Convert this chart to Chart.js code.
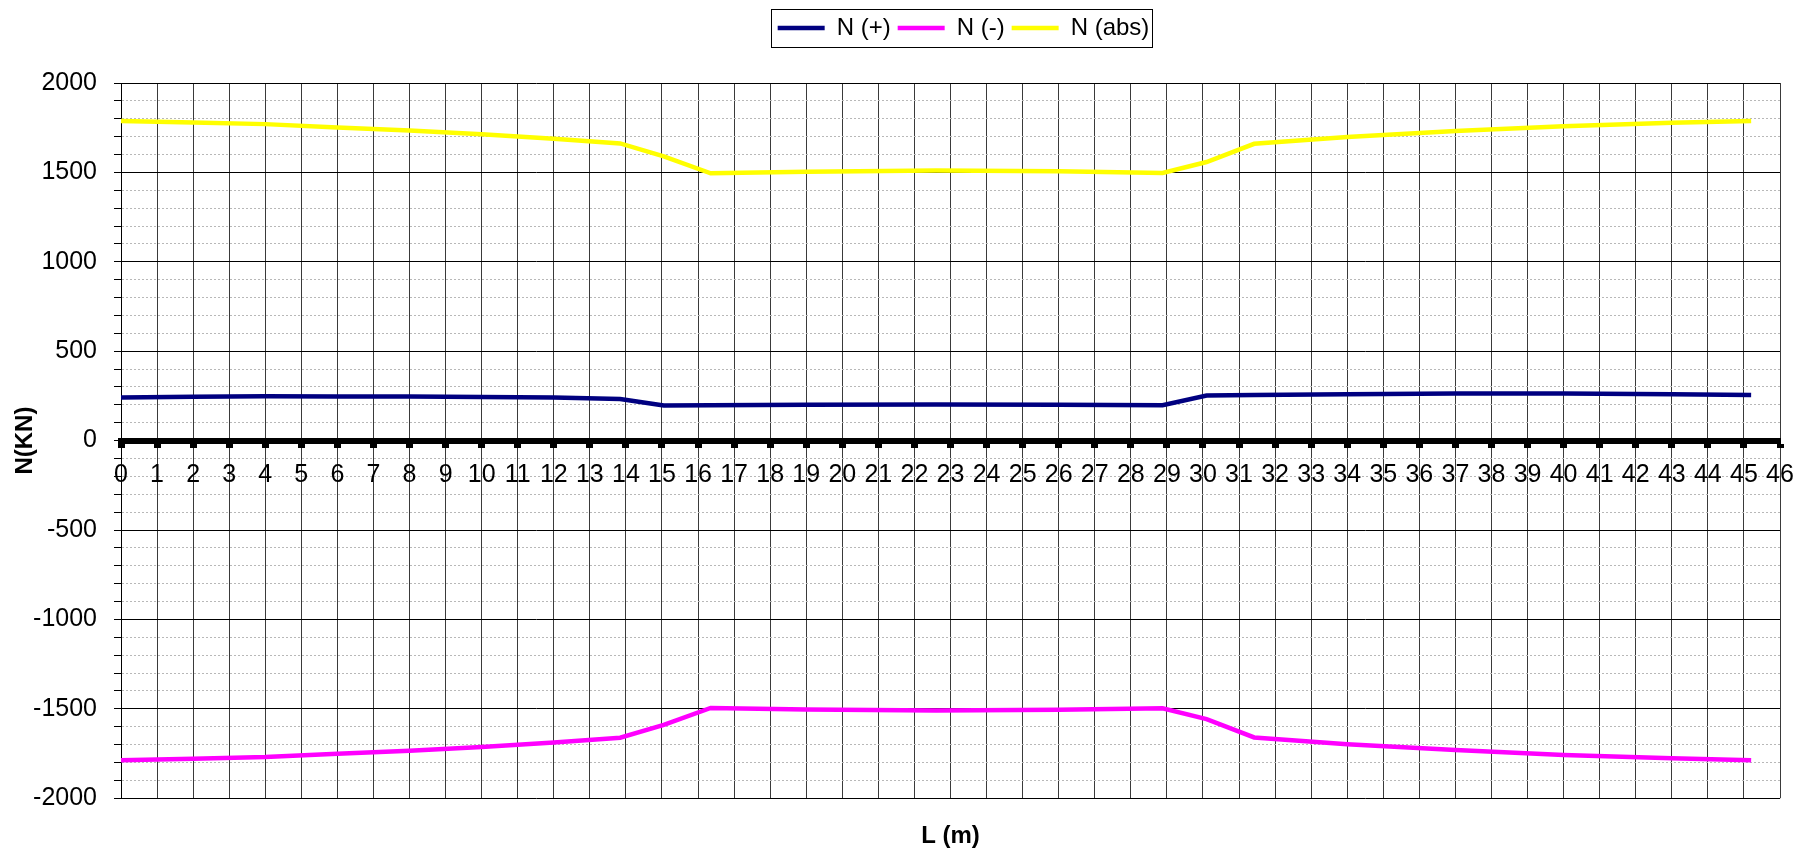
<!DOCTYPE html>
<html>
<head>
<meta charset="utf-8">
<script src="https://cdn.jsdelivr.net/npm/chart.js@4.4.1/dist/chart.umd.min.js"></script>
<style>
  html, body { margin: 0; padding: 0; background: #fff; }
  #wrap { width: 1798px; height: 852px; }
</style>
</head>
<body>
<div id="wrap"><canvas id="c" width="1798" height="852"></canvas></div>
<script>
// L (m) positions along the member, and axial force N (kN) per series
const L_M   = [0, 2, 4, 6, 8, 10, 12, 13.84, 15.05, 16.35, 19, 22.6, 26, 28.88, 30.1, 31.42, 34, 37, 40, 43, 45.2];
const N_POS = [241, 245, 248, 247, 246, 244, 241, 233, 196, 198, 200, 202, 201, 198, 252, 255, 259, 263, 263, 259, 255];
const N_NEG = [-1788, -1779, -1770, -1751, -1734, -1714, -1688, -1662, -1590, -1495, -1504, -1510, -1506, -1497, -1558, -1660, -1698, -1731, -1758, -1777, -1788];
const N_ABS = [1788, 1779, 1770, 1751, 1734, 1714, 1688, 1662, 1590, 1495, 1504, 1510, 1506, 1497, 1558, 1660, 1698, 1731, 1758, 1777, 1788];
const SERIES = ['N (+)', 'N (-)', 'N (abs)'];
const X_MIN = 0, X_MAX = 46, X_STEP = 1;
const Y_MIN = -2000, Y_MAX = 2000, Y_STEP = 100, Y_MAJOR = 500;

const LEGEND_GAP = 33, LEGEND_SHIFT = 13, Y_AXIS_W = 121;

Chart.defaults.font.family = "'Liberation Sans', Arial, sans-serif";
Chart.defaults.font.size = 24;
Chart.defaults.color = '#000';

const pts = ys => L_M.map((x, i) => ({ x, y: ys[i] }));
const isMajor = v => v % Y_MAJOR === 0;

// extra space under the legend + nudge it right
const legendGap = {
  id: 'legendGap',
  afterInit(chart) {
    const lg = chart.legend;
    const fit = lg.fit;
    lg.fit = function () { fit.call(this); this.height += LEGEND_GAP; };
  },
  afterLayout(chart) {
    chart.legend.left += LEGEND_SHIFT;
    chart.legend.right += LEGEND_SHIFT;
  }
};

// frame round the legend, like the spreadsheet one
const legendFrame = {
  id: 'legendFrame',
  afterDraw(chart) {
    const hb = chart.legend.legendHitBoxes;
    if (!hb || !hb.length) return;
    const l = Math.min(...hb.map(b => b.left)) - 7;
    const r = Math.max(...hb.map(b => b.left + b.width)) + 2;
    const cy = hb[0].top + hb[0].height / 2;
    const ctx = chart.ctx;
    ctx.save();
    ctx.strokeStyle = '#000';
    ctx.lineWidth = 1;
    ctx.strokeRect(Math.round(l) + 0.5, Math.round(cy - 19) + 0.5, Math.round(r - l), 38);
    ctx.restore();
  }
};

const ds = (label, data, color) => ({
  label, data: pts(data), borderColor: color, backgroundColor: color,
  borderWidth: 4.5, pointRadius: 0, tension: 0
});

new Chart(document.getElementById('c'), {
  type: 'line',
  data: { datasets: [
    ds(SERIES[0], N_POS, '#000080'),
    ds(SERIES[1], N_NEG, '#FF00FF'),
    ds(SERIES[2], N_ABS, '#FFFF00'),
  ]},
  options: {
    responsive: false, animation: false,
    layout: { padding: { top: 9, left: 0, right: 18, bottom: 1 } },
    plugins: {
      legend: { position: 'top', fullSize: false,
        labels: { usePointStyle: true, pointStyle: 'line', pointStyleWidth: 47, padding: 7, color: '#000', font: { size: 24 } } },
      tooltip: { enabled: false }
    },
    scales: {
      x: { type: 'linear', position: { y: 0 }, min: X_MIN, max: X_MAX,
        afterFit: s => { s.paddingLeft = 0; s.paddingRight = 0; },
        ticks: { stepSize: X_STEP, autoSkip: false, maxRotation: 0, padding: 16, color: '#000', font: { size: 25 } },
        grid: { color: '#3a3a3a', lineWidth: 1, tickLength: 4, tickWidth: 7, tickColor: '#000' },
        border: { display: true, color: '#000', width: 6 } },
      x2: { type: 'linear', axis: 'x', position: 'bottom',
        ticks: { display: false }, grid: { display: false, drawTicks: false }, border: { display: false },
        title: { display: true, text: 'L (m)', color: '#000', font: { size: 24, weight: 'bold' }, padding: { top: 24, bottom: 0 } } },
      y: { type: 'linear', min: Y_MIN, max: Y_MAX,
        afterFit: s => { s.width = Y_AXIS_W; },
        ticks: { stepSize: Y_STEP, autoSkip: false, padding: 17, color: '#000', font: { size: 25 },
          callback: v => isMajor(v) ? v : '' },
        grid: { color: c => isMajor(c.tick.value) ? '#000' : '#b8b8b8', lineWidth: 1, tickColor: '#000', tickLength: 7 },
        border: { color: '#000', width: 1, dash: c => (c.tick && !isMajor(c.tick.value)) ? [2, 2] : [] },
        title: { display: true, text: 'N(KN)', color: '#000', font: { size: 24, weight: 'bold' }, padding: { top: 11, bottom: 0 } } }
    }
  },
  plugins: [legendGap, legendFrame]
});
</script>
</body>
</html>
